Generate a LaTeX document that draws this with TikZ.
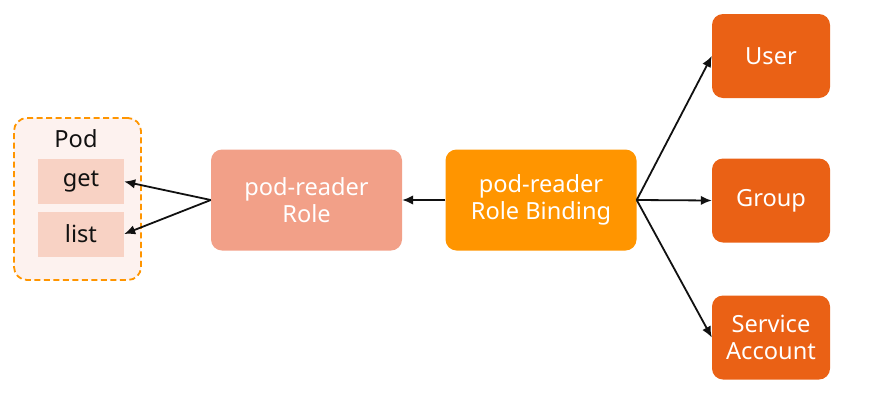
\documentclass[tikz,border=0pt]{standalone}
\usepackage{fontspec}
\setmainfont{Noto Sans}
\usetikzlibrary{arrows.meta,positioning}
\definecolor{rbink}{HTML}{111111}
\definecolor{rbpod}{HTML}{FDF2EF}
\definecolor{rbverb}{HTML}{F8D2C4}
\definecolor{rbrole}{HTML}{F2A088}
\definecolor{rbbind}{HTML}{FF9500}
\definecolor{rbsubj}{HTML}{EA6115}
\tikzset{
  rb text/.style={font=\fontsize{23.6}{27.5}\selectfont, text=rbink},
  rb box/.style={rounded corners=11pt, align=center, text=white,
    minimum width=191pt, minimum height=101pt, inner sep=0pt},
  rb subj/.style={rb box, fill=rbsubj, minimum width=118pt, minimum height=84pt},
  rb verb/.style={fill=rbverb, minimum width=86pt, minimum height=45pt, inner sep=0pt},
  rb arrow/.style={-{Latex[length=11pt,width=9.5pt]}, line width=1.8pt, draw=rbink}
}
\begin{document}
\begin{tikzpicture}[rb text, x=1pt, y=-1pt]
  \useasboundingbox (0,0) rectangle (876,400);
  % pod and its verbs
  \node[draw=rbbind, fill=rbpod, line width=1.8pt, dash pattern=on 6pt off 3.5pt,
    rounded corners=13pt, minimum width=127pt, minimum height=162pt] (pod) at (77.5,199) {};
  \node (podlabel) at (76,139) {Pod};
  \node[rb verb] (get) at (81,181.5) {get};
  \node[rb verb] (list) at (81,234) {list};
  % role and binding
  \node[rb box, fill=rbrole] (role) at (306.5,200) {pod-reader\\Role};
  \node[rb box, fill=rbbind] (binding) at (541,200) {pod-reader\\Role Binding};
  % subjects
  \node[rb subj] (user) at (771,56) {User};
  \node[rb subj] (group) at (771,200.5) {Group};
  \node[rb subj] (sa) at (771,337.5) {Service\\Account};
  % connectors
  \draw[rb arrow] (binding.west) -- (role.east);
  \draw[rb arrow] (role.west) -- (get.east);
  \draw[rb arrow] (role.west) -- (list.east);
  \draw[rb arrow] (binding.east) -- (user.west);
  \draw[rb arrow] (binding.east) -- (group.west);
  \draw[rb arrow] (binding.east) -- (sa.west);
\end{tikzpicture}
\end{document}
